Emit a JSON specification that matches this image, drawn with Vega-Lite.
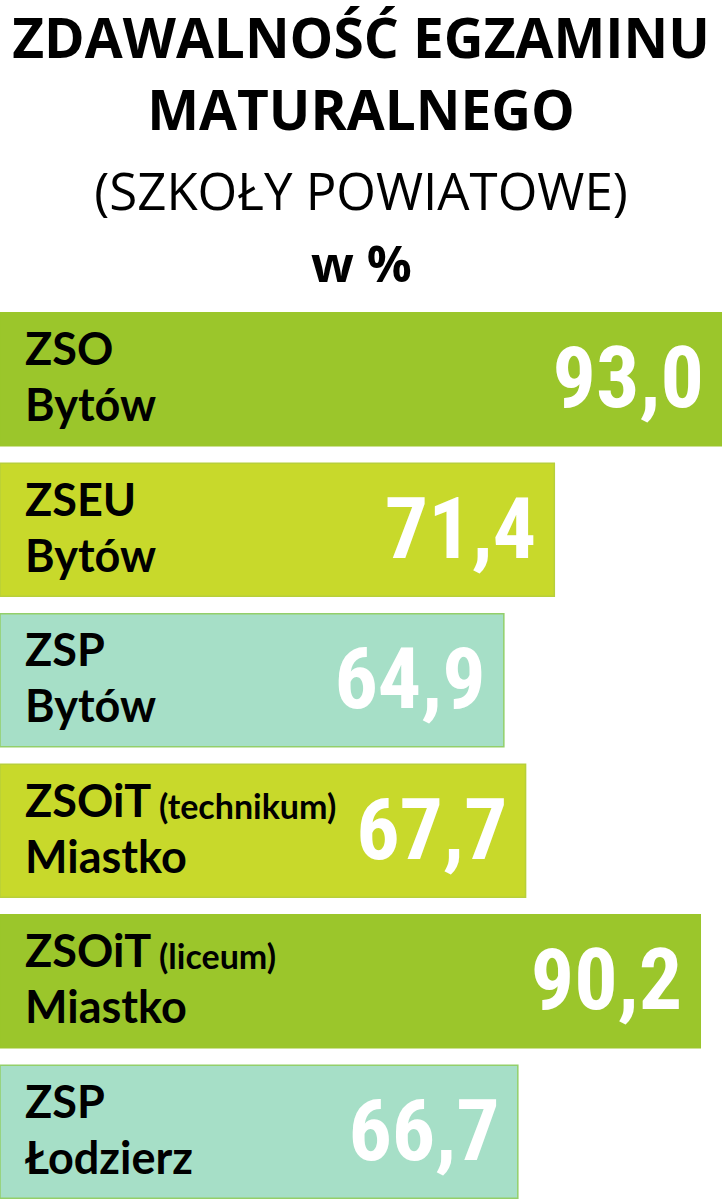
{
  "$schema": "https://vega.github.io/schema/vega-lite/v6.json",
  "width": 722,
  "height": 903,
  "autosize": {"type": "none"},
  "padding": {"top": 304, "left": 0, "right": 0, "bottom": 0},
  "background": "white",
  "title": {
    "text": ["ZDAWALNOŚĆ EGZAMINU", "MATURALNEGO"],
    "subtitle": "(SZKOŁY POWIATOWE)",
    "anchor": "middle",
    "font": "Open Sans",
    "fontSize": 55,
    "fontWeight": "bold",
    "lineHeight": 72,
    "color": "black",
    "subtitleFont": "Open Sans",
    "subtitleFontSize": 51,
    "subtitleFontWeight": "normal",
    "subtitleColor": "black",
    "subtitlePadding": 28,
    "offset": 20
  },
  "data": {
    "values": [
      {"id": "1", "szkola": "ZSO", "opis": "", "miejscowosc": "Bytów", "rodzaj": "liceum", "wynik": 93.0},
      {"id": "2", "szkola": "ZSEU", "opis": "", "miejscowosc": "Bytów", "rodzaj": "technikum", "wynik": 71.4},
      {"id": "3", "szkola": "ZSP", "opis": "", "miejscowosc": "Bytów", "rodzaj": "zawodowa", "wynik": 64.9},
      {"id": "4", "szkola": "ZSOiT", "opis": "(technikum)", "miejscowosc": "Miastko", "rodzaj": "technikum", "wynik": 67.7},
      {"id": "5", "szkola": "ZSOiT", "opis": "(liceum)", "miejscowosc": "Miastko", "rodzaj": "liceum", "wynik": 90.2},
      {"id": "6", "szkola": "ZSP", "opis": "", "miejscowosc": "Łodzierz", "rodzaj": "zawodowa", "wynik": 66.7}
    ]
  },
  "encoding": {
    "y": {
      "field": "id",
      "type": "nominal",
      "sort": null,
      "axis": null,
      "scale": {"paddingInner": 0.116, "paddingOuter": 0.058}
    }
  },
  "layer": [
    {
      "mark": {"type": "bar", "strokeWidth": 1.5},
      "encoding": {
        "x": {
          "field": "wynik",
          "type": "quantitative",
          "scale": {"domain": [0, 93], "nice": false, "zero": true},
          "axis": {
            "orient": "top",
            "title": "w %",
            "titleFont": "Open Sans",
            "titleFontSize": 50,
            "titleFontWeight": "bold",
            "titleColor": "black",
            "titlePadding": 13,
            "labels": false,
            "ticks": false,
            "domain": false,
            "grid": false
          }
        },
        "color": {
          "field": "rodzaj",
          "type": "nominal",
          "scale": {"domain": ["liceum", "technikum", "zawodowa"], "range": ["#9bc62b", "#c8d92b", "#a6dfc7"]},
          "legend": null
        },
        "stroke": {
          "field": "rodzaj",
          "type": "nominal",
          "scale": {"domain": ["liceum", "technikum", "zawodowa"], "range": ["#9bc62b", "#b8cf3a", "#93cf6a"]},
          "legend": null
        }
      }
    },
    {
      "mark": {"type": "text", "align": "left", "baseline": "alphabetic", "dx": 25, "dy": -14, "font": "Lato", "fontSize": 45, "fontWeight": "bold", "color": "black"},
      "encoding": {"x": {"datum": 0, "type": "quantitative"}, "text": {"field": "szkola"}}
    },
    {
      "mark": {"type": "text", "align": "left", "baseline": "alphabetic", "dx": 159, "dy": -12, "font": "Lato", "fontSize": 34, "fontWeight": "bold", "color": "black"},
      "encoding": {"x": {"datum": 0, "type": "quantitative"}, "text": {"field": "opis"}}
    },
    {
      "mark": {"type": "text", "align": "left", "baseline": "alphabetic", "dx": 25, "dy": 42, "font": "Lato", "fontSize": 45, "fontWeight": "bold", "color": "black"},
      "encoding": {"x": {"datum": 0, "type": "quantitative"}, "text": {"field": "miejscowosc"}}
    },
    {
      "mark": {"type": "text", "align": "right", "baseline": "alphabetic", "dx": -18, "dy": 28, "font": "Roboto Condensed, Roboto", "fontSize": 86, "fontWeight": "bold", "color": "white"},
      "encoding": {
        "x": {"field": "wynik", "type": "quantitative"},
        "text": {"field": "wynik", "type": "quantitative", "format": ".1f"}
      }
    }
  ],
  "config": {
    "view": {"stroke": null},
    "locale": {"number": {"decimal": ",", "thousands": " ", "grouping": [3], "currency": ["", " zł"]}}
  }
}
